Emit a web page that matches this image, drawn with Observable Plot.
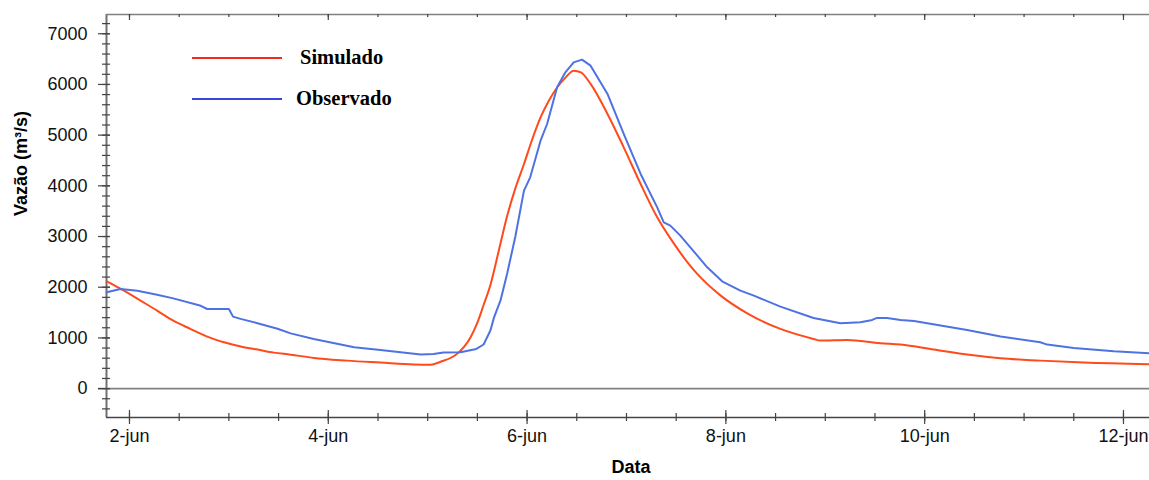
<!DOCTYPE html>
<html>
<head>
<meta charset="utf-8">
<script src="https://cdn.jsdelivr.net/npm/d3@7"></script>
<script src="https://cdn.jsdelivr.net/npm/@observablehq/plot@0.6"></script>
<style>
  html, body { margin: 0; padding: 0; background: #fff; }
  #chart svg { display: block; }
</style>
</head>
<body>
<div id="chart"></div>
<script>
// ---- data ----
const simTimes = ["2021-06-01 18:30","2021-06-01 21:50","2021-06-02 02:40","2021-06-02 06:40","2021-06-02 10:35","2021-06-02 14:40","2021-06-02 18:45","2021-06-02 22:50","2021-06-03 02:50","2021-06-03 06:55","2021-06-03 10:50","2021-06-03 14:55","2021-06-03 20:30","2021-06-04 04:35","2021-06-04 12:35","2021-06-04 20:40","2021-06-05 00:40","2021-06-05 03:05","2021-06-05 07:10","2021-06-05 10:20","2021-06-05 12:00","2021-06-05 13:30","2021-06-05 15:10","2021-06-05 17:15","2021-06-05 19:10","2021-06-05 21:10","2021-06-05 23:15","2021-06-06 01:10","2021-06-06 03:15","2021-06-06 05:15","2021-06-06 07:15","2021-06-06 09:20","2021-06-06 11:15","2021-06-06 13:00","2021-06-06 15:20","2021-06-06 19:25","2021-06-06 23:20","2021-06-07 03:25","2021-06-07 07:25","2021-06-07 11:30","2021-06-07 15:25","2021-06-07 17:05","2021-06-07 22:45","2021-06-08 05:10","2021-06-08 13:10","2021-06-08 21:10","2021-06-08 22:50","2021-06-09 05:15","2021-06-09 13:20","2021-06-09 18:10","2021-06-10 02:10","2021-06-10 10:15","2021-06-10 18:20","2021-06-11 04:00","2021-06-11 14:25","2021-06-12 06:15"];
const simValues = [2115,1970,1735,1540,1340,1180,1025,913,830,770,710,670,605,552,513,475,470,530,690,1010,1300,1650,2050,2750,3400,3950,4430,4900,5350,5680,5940,6140,6272,6240,6010,5418,4760,4037,3379,2854,2420,2262,1834,1485,1177,980,947,960,893,868,770,671,598,552,513,480];

const obsTimes = ["2021-06-01 18:30","2021-06-01 21:50","2021-06-02 01:55","2021-06-02 06:40","2021-06-02 10:35","2021-06-02 17:00","2021-06-02 18:45","2021-06-03 00:00","2021-06-03 01:00","2021-06-03 02:50","2021-06-03 06:55","2021-06-03 11:45","2021-06-03 14:55","2021-06-03 20:30","2021-06-04 06:15","2021-06-04 12:35","2021-06-04 22:20","2021-06-05 01:25","2021-06-05 03:50","2021-06-05 07:55","2021-06-05 11:45","2021-06-05 13:30","2021-06-05 15:10","2021-06-05 16:00","2021-06-05 17:35","2021-06-05 19:10","2021-06-05 21:10","2021-06-05 23:15","2021-06-06 00:45","2021-06-06 03:15","2021-06-06 04:50","2021-06-06 07:15","2021-06-06 09:15","2021-06-06 11:15","2021-06-06 13:15","2021-06-06 15:20","2021-06-06 19:25","2021-06-06 23:20","2021-06-07 03:25","2021-06-07 07:25","2021-06-07 09:00","2021-06-07 10:35","2021-06-07 13:00","2021-06-07 15:25","2021-06-07 19:30","2021-06-07 23:05","2021-06-08 03:30","2021-06-08 06:45","2021-06-08 13:10","2021-06-08 21:10","2021-06-09 03:40","2021-06-09 08:30","2021-06-09 11:20","2021-06-09 12:30","2021-06-09 14:55","2021-06-09 18:10","2021-06-09 21:25","2021-06-10 03:50","2021-06-10 10:15","2021-06-10 18:20","2021-06-11 03:55","2021-06-11 05:35","2021-06-11 12:00","2021-06-11 21:40","2021-06-12 06:15"];
const obsValues = [1900,1965,1930,1850,1780,1640,1570,1570,1420,1375,1290,1180,1090,980,815,763,671,684,710,717,783,870,1150,1400,1740,2262,3000,3905,4168,4891,5220,5943,6239,6436,6489,6371,5812,5023,4234,3576,3280,3215,3018,2787,2393,2117,1933,1834,1617,1394,1288,1308,1355,1394,1394,1355,1335,1243,1157,1026,913,868,803,736,697];

const seriesNames = ["Simulado", "Observado"];
const xTickDates = ["2021-06-02 00:00","2021-06-04 00:00","2021-06-06 00:00","2021-06-08 00:00","2021-06-10 00:00","2021-06-12 00:00"];
const xTickLabels = ["2-jun","4-jun","6-jun","8-jun","10-jun","12-jun"];
const yTickValues = [0,1000,2000,3000,4000,5000,6000,7000];
const xDomainText = ["2021-06-01 18:27","2021-06-12 06:17"];
const yDomain = [-570, 7380];

// ---- build ----
const parse = d3.utcParse("%Y-%m-%d %H:%M");
const sim = simTimes.map((t, i) => ({t: parse(t), v: simValues[i]}));
const obs = obsTimes.map((t, i) => ({t: parse(t), v: obsValues[i]}));
const xDomain = xDomainText.map(parse);
const xMajor = xTickDates.map(parse);
const xMinor = d3.utcHour.every(12).range(parse("2021-06-02 00:00"), xDomain[1]);
const yMinor = d3.range(-400, 7201, 200);

const W = 1149, H = 480, mL = 106, mR = 0, mT = 14, mB = 63;
const pw = W - mL - mR, ph = H - mT - mB;

const simColor = "#ff4a1c", obsColor = "#4f72e3";

const chart = Plot.plot({
  width: W, height: H,
  marginLeft: mL, marginRight: mR, marginTop: mT, marginBottom: mB,
  style: {fontFamily: "Arial, 'Liberation Sans', sans-serif", fontSize: "18px", background: "#fff", color: "#000"},
  x: {type: "utc", domain: xDomain, axis: null},
  y: {domain: yDomain, axis: null},
  marks: [
    // zero line
    Plot.ruleY([0], {stroke: "#808080", strokeWidth: 1.6, insetLeft: -8}),
    // frame: left, top, bottom
    Plot.ruleX([xDomain[0]], {stroke: "#707070", strokeWidth: 2}),
    Plot.ruleY([yDomain[1]], {stroke: "#808080", strokeWidth: 1.5}),
    Plot.ruleY([yDomain[0]], {stroke: "#444", strokeWidth: 1.5}),
    // y ticks
    Plot.tickY(yMinor, {y: d => d, stroke: "#444", strokeWidth: 1.2, insetLeft: -4, insetRight: pw - 4}),
    Plot.tickY(yTickValues, {y: d => d, stroke: "#444", strokeWidth: 1.2, insetLeft: -8, insetRight: pw - 4}),
    // x ticks bottom
    Plot.tickX(xMinor, {x: d => d, stroke: "#444", strokeWidth: 1.2, insetTop: ph - 4, insetBottom: -4}),
    Plot.tickX(xMajor, {x: d => d, stroke: "#444", strokeWidth: 1.2, insetTop: ph - 7, insetBottom: -7}),
    // x ticks top
    Plot.tickX(xMinor, {x: d => d, stroke: "#444", strokeWidth: 1.2, insetTop: 0, insetBottom: ph - 3}),
    Plot.tickX(xMajor, {x: d => d, stroke: "#444", strokeWidth: 1.2, insetTop: 0, insetBottom: ph - 6}),
    // tick labels
    Plot.text(yTickValues, {y: d => d, text: d => String(d), frameAnchor: "left", textAnchor: "end", dx: -19, fontSize: 18, fill: "#111"}),
    Plot.text(xMajor, {x: d => d, text: (d, i) => xTickLabels[i], frameAnchor: "bottom", dy: 24, fontSize: 18, fill: "#111"}),
    // axis titles
    Plot.text(["Data"], {frameAnchor: "bottom", dx: 3, dy: 55, fontWeight: "bold", fontSize: 18, fill: "#000"}),
    Plot.text(["Vazão (m³/s)"], {frameAnchor: "left", dx: -85, rotate: -90, fontWeight: "bold", fontSize: 18, fill: "#000"}),
    // series
    Plot.line(sim, {x: "t", y: "v", stroke: simColor, strokeWidth: 2, curve: "monotone-x"}),
    Plot.line(obs, {x: "t", y: "v", stroke: obsColor, strokeWidth: 2, curve: "linear"})
  ]
});

document.getElementById("chart").appendChild(chart);

// legend (inside plot, upper left)
const svg = d3.select(chart);
const leg = svg.append("g")
  .attr("font-family", "'Liberation Serif', 'Times New Roman', serif")
  .attr("font-weight", "bold")
  .attr("font-size", 20.5)
  .attr("text-anchor", "start");
const legItems = [
  {name: seriesNames[0], color: "#f52a1e", y: 58, tx: 300},
  {name: seriesNames[1], color: "#3b45dc", y: 99, tx: 296}
];
legItems.forEach(it => {
  leg.append("line").attr("x1", 192).attr("x2", 282).attr("y1", it.y).attr("y2", it.y).attr("stroke", it.color).attr("stroke-width", 2);
  leg.append("text").attr("x", it.tx).attr("y", it.y + 6).attr("fill", "#000").attr("text-anchor", "start").text(it.name);
});
</script>
</body>
</html>
